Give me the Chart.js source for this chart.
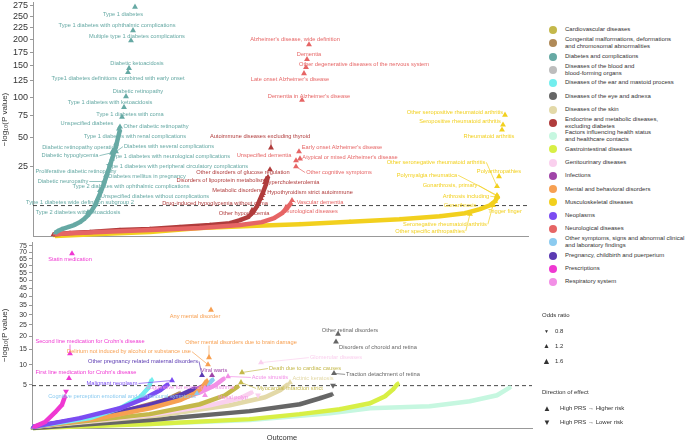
<!DOCTYPE html>
<html>
<head>
<meta charset="utf-8">
<script src="https://cdn.jsdelivr.net/npm/chart.js@4.4.1/dist/chart.umd.min.js"></script>
<style>
  body { margin: 0; background: #fff; font-family: "Liberation Sans", Arial, sans-serif; color: #333; }
  #page { position: relative; width: 685px; height: 442px; overflow: hidden; }
  canvas { position: absolute; left: 0; }
  #topChart { top: 0; }
  #bottomChart { top: 240px; }
  #legend { position: absolute; left: 549px; top: 23.4px; font-size: 6px; }
  .row { height: 13.27px; display: flex; align-items: center; }
  .dot { width: 8px; height: 8px; border-radius: 50%; margin-right: 8px; flex: none; }
  .lbl { line-height: 7.2px; white-space: nowrap; }
  .note { position: absolute; font-size: 6px; white-space: nowrap; }
  #outcome { position: absolute; left: 232px; width: 100px; top: 433px; text-align: center; font-size: 7.5px; }
</style>
</head>
<body>
<div id="page">
  <canvas id="topChart" width="540" height="242"></canvas>
  <canvas id="bottomChart" width="540" height="202"></canvas>
  <div id="legend"></div>
  <div class="note" style="left:542px;top:312px">Odds ratio</div>
  <div class="note" style="left:544px;top:328px;font-size:5px">▼</div>
  <div class="note" style="left:555px;top:328px">0.8</div>
  <div class="note" style="left:543px;top:342px;font-size:7px">▲</div>
  <div class="note" style="left:555px;top:343px">1.2</div>
  <div class="note" style="left:542px;top:356px;font-size:9px">▲</div>
  <div class="note" style="left:555px;top:358px">1.6</div>
  <div class="note" style="left:542px;top:389px">Direction of effect</div>
  <div class="note" style="left:543px;top:404px;font-size:8px">▲</div>
  <div class="note" style="left:560px;top:405px">High PRS → Higher risk</div>
  <div class="note" style="left:543px;top:418px;font-size:8px">▼</div>
  <div class="note" style="left:560px;top:419px">High PRS → Lower risk</div>
  <div id="outcome">Outcome</div>
</div>
<script>
// Категории (легенда)
const categories = [
  "Cardiovascular diseases",
  "Congenital malformations, deformations and chromosomal abnormalities",
  "Diabetes and complications",
  "Diseases of the blood and blood-forming organs",
  "Diseases of the ear and mastoid process",
  "Diseases of the eye and adnexa",
  "Diseases of the skin",
  "Endocrine and metabolic diseases, excluding diabetes",
  "Factors influencing health status and healthcare contacts",
  "Gastrointestinal diseases",
  "Genitourinary diseases",
  "Infections",
  "Mental and behavioral disorders",
  "Musculoskeletal diseases",
  "Neoplasms",
  "Neurological diseases",
  "Other symptoms, signs and abnormal clinical and laboratory findings",
  "Pregnancy, childbirth and puerperium",
  "Prescriptions",
  "Respiratory system"
];

// Деления оси Y (-log10 P)
const topTicks = [25, 50, 75, 100, 125, 150, 175, 200, 225, 250, 275];
const bottomTicks = [5, 10, 15, 20, 25, 30, 35, 40, 45, 50, 55, 60, 65, 70, 75];
const threshold = 4.8;

// Верхняя панель: [ранг, -log10 P] и отмеченные исходы [ранг, -log10 P, название, направление]
const diabetesCurve = [[22, 0.05], [25, 0.13], [29, 0.25], [35, 0.41], [41, 0.62], [47, 1.0], [51, 1.47], [55, 2.25], [59, 3.45], [62, 4.9], [65, 7.37], [68, 10.3], [71, 14.3], [74, 19.6], [77, 25.7], [80, 33.5], [83, 41.3], [85, 50], [87, 58.4]];
const diabetesHits = [
  [102, 272, "Type 1 diabetes"],
  [100, 219, "Type 1 diabetes with ophthalmic complications"],
  [98, 198, "Multiple type 1 diabetes complications"],
  [96, 146, "Diabetic ketoacidosis"],
  [95, 139, "Type1 diabetes definitions combined with early onset"],
  [93, 101, "Diabetic retinopathy"],
  [91, 86, "Type 1 diabetes with ketoacidosis"],
  [89, 73.5, "Type 1 diabetes with coma"],
  [87, 61.7, "Other diabetic retinopathy"],
  [86, 59.5, "Unspecified diabetes"],
  [83, 44, "Type 1 diabetes with renal complications"],
  [83, 36.9, "Diabetes with several complications"],
  [80, 37.7, "Diabetic retinopathy operation"],
  [79, 36, "Diabetic hypoglycemia"],
  [79, 31, "Type 1 diabetes with neurological complications"],
  [77, 27.2, "Type 1 diabetes with peripheral circulatory complications"],
  [75, 22.2, "Proliferative diabetic retinopathy"],
  [73, 19, "Diabetes mellitus in pregnancy"],
  [71, 15.4, "Diabetic neuropathy"],
  [67, 10.8, "Type 2 diabetes with ophthalmic complications"],
  [65, 7.4, "Unspecified diabetes without complications"],
  [63, 5.2, "Type 1 diabetes wide definition subgroup 2"],
  [55, 2.9, "Type 2 diabetes with ketoacidosis"]
];
const endocrineCurve = [[20, 0.01], [37, 0.05], [57, 0.08], [87, 0.18], [117, 0.25], [147, 0.41], [177, 0.62], [197, 0.86], [207, 1.31], [215, 1.84], [220, 2.94], [224, 4.59], [227, 6.98], [230, 9.9], [233, 13.8], [235, 18.4]];
const endocrineHits = [
  [238, 40.4, "Autoimmune diseases excluding thyroid"],
  [237, 22.9, "Other disorders of glucose regulation"],
  [233, 16.6, "Disorders of lipoprotein metabolism"],
  [232, 14.9, "Hypercholesterolemia"],
  [230, 9.4, "Metabolic disorders"],
  [229, 8.6, "Hypothyroidism strict autoimmune"],
  [228, 7.4, "Drug-induced hypoglycemia without coma"],
  [219, 3.45, "Other hypoglycemia"]
];
const neuroCurve = [[22, 0.02], [67, 0.08], [117, 0.18], [167, 0.33], [207, 0.62], [229, 1.0], [241, 1.65], [249, 2.7], [254, 4.0], [258, 5.6]];
const neuroHits = [
  [276, 190, "Alzheimer's disease, wide definition"],
  [274, 161.7, "Dementia"],
  [273, 147.4, "Other degenerative diseases of the nervous system"],
  [271, 137, "Late onset Alzheimer's disease"],
  [269, 95.8, "Dementia in Alzheimer's disease"],
  [266, 36.9, "Early onset Alzheimer's disease"],
  [267, 31, "Atypical or mixed Alzheimer's disease"],
  [263, 29.5, "Unspecified dementia"],
  [263, 25, "Other cognitive symptoms"],
  [259, 6.6, "Vascular dementia"],
  [253, 4.3, "Neurological diseases"]
];
const muscleCurve = [[22, 0.0], [67, 0.02], [117, 0.08], [167, 0.33], [217, 0.51], [267, 0.73], [317, 1.07], [367, 1.47], [407, 2.04], [432, 2.7], [447, 3.72], [457, 4.9], [462, 6.25], [465, 8.16]];
const muscleHits = [
  [472, 75.9, "Other seropositive rheumatoid arthritis"],
  [470, 64, "Seropositive rheumatoid arthritis"],
  [469, 58.4, "Rheumatoid arthritis"],
  [466, 18.4, "Polyarthropathies"],
  [464, 12.8, "Other seronegative rheumatoid arthritis"],
  [464, 8.6, "Polymyalgia rheumatica"],
  [464, 8.2, "Gonarthrosis, primary"],
  [464, 7.8, "Arthrosis including"],
  [462, 6.25, "Gonarthrosis"],
  [459, 5.2, "Trigger finger"],
  [460, 4.9, "Seronegative rheumatoid arthritis"],
  [437, 2.5, "Other specific arthropathies"]
];

// Нижняя панель
const prescriptionCurve = [[2, 0.08], [13, 0.25], [23, 0.9], [30, 1.7], [33, 2.9]];
const prescriptionHits = [
  [40, 68.9, "Statin medication"],
  [38, 13.5, "Second line medication for Crohn's disease"],
  [37, 6.4, "First line medication for Crohn's disease"],
  [34, 3.7, "", -1]
];
const mentalCurve = [[1, 0.08], [68, 0.47], [118, 1.31], [148, 2.3], [163, 3.37], [171, 4.65], [175, 5.9]];
const mentalHits = [
  [179, 32.4, "Any mental disorder"],
  [177, 12.2, "Other mental disorders due to brain damage"],
  [176, 10, "Delirium not induced by alcohol or substance use"]
];
const pregnancyCurve = [[1, 0.08], [68, 0.61], [118, 1.65], [148, 3.04], [163, 4.26]];
const pregnancyHits = [[170, 7.1, "Other pregnancy related maternal disorders"]];
const infectionCurve = [[1, 0.08], [78, 0.68], [128, 2.02], [158, 3.54], [173, 4.85]];
const infectionHits = [[180, 7.1, "Viral warts"]];
const neoplasmCurve = [[1, 0.08], [48, 0.47], [88, 1.31], [113, 2.58], [128, 3.89], [136, 5.05]];
const neoplasmHits = [[140, 5.9, "Malignant neoplasm"]];
const symptomCurve = [[1, 0.08], [68, 0.54], [118, 1.65], [153, 3.04], [168, 4.26], [178, 5.47], [181, 6.14]];
const symptomHits = [[165, 3.37, "Cognitive perception emotional and behavioural symptoms"]];
const earCurve = [[1, 0.08], [58, 0.47], [88, 1.31], [108, 2.73], [116, 4.26], [120, 6.14]];
const bloodCurve = [[1, 0.08], [88, 0.76], [138, 2.29], [163, 3.54]];
const congenitalCurve = [[1, 0.08], [88, 0.93], [133, 2.29], [148, 3.37]];
const respiratoryCurve = [[1, 0.08], [88, 0.84], [138, 2.02], [168, 3.54], [183, 4.85], [192, 6.37]];
const respiratoryHits = [
  [196, 6.84, "Acute sinusitis"],
  [173, 4.26, "Suggestive for eosinophilic asthma"],
  [173, 3.04, "Nasal polyp"]
];
const genitourinaryCurve = [[1, 0.08], [118, 0.68], [178, 1.65], [208, 2.58], [220, 3.54]];
const genitourinaryHits = [[229, 10.6, "Glomerular diseases"], [226, 3.04, "", -1]];
const cardioCurve = [[1, 0.08], [118, 0.76], [168, 1.77], [193, 3.04], [206, 4.65]];
const cardioHits = [[210, 7.83, "Death due to cardiac causes"], [209, 5.47, "Myocardial infarction strict"]];
const skinCurve = [[1, 0.08], [128, 0.68], [198, 1.65], [233, 2.73], [248, 3.89], [256, 5.05]];
const skinHits = [[258, 5.47, "Actinic keratosis"]];
const eyeCurve = [[1, 0.05], [118, 0.36], [218, 1.02], [268, 1.77], [288, 2.58], [300, 3.2]];
const eyeHits = [
  [306, 21, "Other retinal disorders"],
  [304, 17.8, "Disorders of choroid and retina"],
  [302, 7.6, "Traction detachment of retina"],
  [301, 4.85, "", -1]
];
const gastroCurve = [[1, 0.05], [118, 0.17], [218, 0.41], [268, 0.76], [308, 1.21], [338, 1.89], [353, 2.88], [361, 4.07], [366, 5.26]];
const factorsCurve = [[1, 0.08], [118, 0.17], [218, 0.36], [298, 0.84], [338, 1.31], [398, 1.53], [438, 2.15], [465, 3.04], [478, 4.45]];

// Цвета категорий
const palette = {
  "Cardiovascular diseases": "#c4b84a",
  "Congenital malformations, deformations and chromosomal abnormalities": "#b08a58",
  "Diabetes and complications": "#66a9a4",
  "Diseases of the blood and blood-forming organs": "#bdbdbd",
  "Diseases of the ear and mastoid process": "#72eeee",
  "Diseases of the eye and adnexa": "#666666",
  "Diseases of the skin": "#e3d9a8",
  "Endocrine and metabolic diseases, excluding diabetes": "#b03c3c",
  "Factors influencing health status and healthcare contacts": "#c6f7e0",
  "Gastrointestinal diseases": "#d8ef45",
  "Genitourinary diseases": "#fad0ee",
  "Infections": "#a044a8",
  "Mental and behavioral disorders": "#f7a052",
  "Musculoskeletal diseases": "#f2d01e",
  "Neoplasms": "#7b4cf2",
  "Neurological diseases": "#e66565",
  "Other symptoms, signs and abnormal clinical and laboratory findings": "#8ccbf0",
  "Pregnancy, childbirth and puerperium": "#5b3ab2",
  "Prescriptions": "#ef38d2",
  "Respiratory system": "#f28fe6"
};
const legendLines = {
  "Congenital malformations, deformations and chromosomal abnormalities": ["Congenital malformations, deformations", "and chromosomal abnormalities"],
  "Diseases of the blood and blood-forming organs": ["Diseases of the blood and", "blood-forming organs"],
  "Endocrine and metabolic diseases, excluding diabetes": ["Endocrine and metabolic diseases,", "excluding diabetes"],
  "Factors influencing health status and healthcare contacts": ["Factors influencing health status", "and healthcare contacts"],
  "Other symptoms, signs and abnormal clinical and laboratory findings": ["Other symptoms, signs and abnormal clinical", "and laboratory findings"]
};

// Смещения подписей в пикселях: [dx, dy, выноска]
const noteOffsets = {
  "Type 1 diabetes": [-12, 7],
  "Type 1 diabetes with ophthalmic complications": [-16, -5],
  "Multiple type 1 diabetes complications": [6, -4],
  "Diabetic ketoacidosis": [8, -5],
  "Type1 diabetes definitions combined with early onset": [-10, 6],
  "Diabetic retinopathy": [12, -5],
  "Type 1 diabetes with ketoacidosis": [-14, -5],
  "Type 1 diabetes with coma": [8, -3],
  "Other diabetic retinopathy": [36, 0],
  "Unspecified diabetes": [-32, -5],
  "Type 1 diabetes with renal complications": [19, -7],
  "Diabetes with several complications": [53, -5, true],
  "Diabetic retinopathy operation": [-33, -3],
  "Diabetic hypoglycemia": [-42, 3, true],
  "Type 1 diabetes with neurological complications": [58, -2, true],
  "Type 1 diabetes with peripheral circulatory complications": [67, 3, true],
  "Proliferative diabetic retinopathy": [-32, 1],
  "Diabetes mellitus in pregnancy": [41, 1],
  "Diabetic neuropathy": [-41, 0, true],
  "Type 2 diabetes with ophthalmic complications": [31, -4],
  "Unspecified diabetes without complications": [57, -2],
  "Type 1 diabetes wide definition subgroup 2": [-16, -2],
  "Type 2 diabetes with ketoacidosis": [-10, 0],
  "Autoimmune diseases excluding thyroid": [-11, -11, true],
  "Other disorders of glucose regulation": [-27, 3],
  "Disorders of lipoprotein metabolism": [-45, 1],
  "Hypercholesterolemia": [27, 0],
  "Metabolic disorders": [-26, -3],
  "Hypothyroidism strict autoimmune": [48, -3],
  "Drug-induced hypoglycemia without coma": [-46, 5],
  "Other hypoglycemia": [-8, 3],
  "Alzheimer's disease, wide definition": [-14, -5],
  "Dementia": [2, -5],
  "Other degenerative diseases of the nervous system": [58, -3],
  "Late onset Alzheimer's disease": [-14, 6],
  "Dementia in Alzheimer's disease": [7, -4],
  "Early onset Alzheimer's disease": [43, -4],
  "Atypical or mixed Alzheimer's disease": [50, -1],
  "Unspecified dementia": [-32, -5],
  "Other cognitive symptoms": [43, 6, true],
  "Vascular dementia": [28, 2, true],
  "Neurological diseases": [24, 4, true],
  "Other seropositive rheumatoid arthritis": [-50, -3],
  "Seropositive rheumatoid arthritis": [-43, -3],
  "Rheumatoid arthritis": [-13, 7],
  "Polyarthropathies": [0, -5],
  "Other seronegative rheumatoid arthritis": [-61, -24, true],
  "Polymyalgia rheumatica": [-70, -20, true],
  "Gonarthrosis, primary": [-47, -11, true],
  "Arthrosis including": [-31, -1, true],
  "Gonarthrosis": [-35, 4],
  "Trigger finger": [13, 7, true],
  "Seronegative rheumatoid arthritis": [-48, 19, true],
  "Other specific arthropathies": [-40, 17, true],
  "Statin medication": [-2, 6],
  "Second line medication for Crohn's disease": [20, -12, true],
  "First line medication for Crohn's disease": [17, -6],
  "Any mental disorder": [-16, 6],
  "Other mental disorders due to brain damage": [32, -15, true],
  "Delirium not induced by alcohol or substance use": [-79, -13, true],
  "Other pregnancy related maternal disorders": [-59, -14, true],
  "Viral warts": [2, -5],
  "Malignant neoplasm": [-60, 3, true],
  "Cognitive perception emotional and behavioural symptoms": [-75, 3],
  "Acute sinusitis": [42, 1, true],
  "Suggestive for eosinophilic asthma": [-15, -1],
  "Nasal polyp": [28, 2],
  "Glomerular diseases": [75, -5, true],
  "Death due to cardiac causes": [63, -4, true],
  "Myocardial infarction strict": [49, 6, true],
  "Actinic keratosis": [23, -4],
  "Other retinal disorders": [12, -4],
  "Disorders of choroid and retina": [42, 6],
  "Traction detachment of retina": [49, 1, true]
};

// Состав панелей (первая строка рисуется поверх)
const topPanel = [
  ["Diabetes and complications", diabetesCurve, diabetesHits],
  ["Neurological diseases", neuroCurve, neuroHits],
  ["Endocrine and metabolic diseases, excluding diabetes", endocrineCurve, endocrineHits],
  ["Musculoskeletal diseases", muscleCurve, muscleHits]
];
const bottomPanel = [
  ["Prescriptions", prescriptionCurve, prescriptionHits],
  ["Neoplasms", neoplasmCurve, neoplasmHits],
  ["Diseases of the ear and mastoid process", earCurve, []],
  ["Mental and behavioral disorders", mentalCurve, mentalHits],
  ["Pregnancy, childbirth and puerperium", pregnancyCurve, pregnancyHits],
  ["Infections", infectionCurve, infectionHits],
  ["Other symptoms, signs and abnormal clinical and laboratory findings", symptomCurve, symptomHits],
  ["Respiratory system", respiratoryCurve, respiratoryHits],
  ["Diseases of the blood and blood-forming organs", bloodCurve, []],
  ["Congenital malformations, deformations and chromosomal abnormalities", congenitalCurve, []],
  ["Cardiovascular diseases", cardioCurve, cardioHits],
  ["Genitourinary diseases", genitourinaryCurve, genitourinaryHits],
  ["Diseases of the skin", skinCurve, skinHits],
  ["Diseases of the eye and adnexa", eyeCurve, eyeHits],
  ["Gastrointestinal diseases", gastroCurve, []],
  ["Factors influencing health status and healthcare contacts", factorsCurve, []]
];

// Легенда
const legendEl = document.getElementById("legend");
categories.forEach(cat => {
  const row = document.createElement("div");
  row.className = "row";
  const dot = document.createElement("span");
  dot.className = "dot";
  dot.style.background = palette[cat];
  const lbl = document.createElement("span");
  lbl.className = "lbl";
  (legendLines[cat] || [cat]).forEach((line, i) => {
    if (i) lbl.appendChild(document.createElement("br"));
    lbl.appendChild(document.createTextNode(line));
  });
  row.appendChild(dot);
  row.appendChild(lbl);
  legendEl.appendChild(row);
});

// Пунктирная линия порога значимости
const sigPlugin = {
  id: "sig",
  beforeDatasetsDraw(chart) {
    const { ctx, chartArea: a, scales } = chart;
    const py = scales.y.getPixelForValue(Math.sqrt(threshold));
    ctx.save();
    ctx.setLineDash([4, 3]);
    ctx.strokeStyle = "#333";
    ctx.lineWidth = 0.9;
    ctx.beginPath();
    ctx.moveTo(a.left, py);
    ctx.lineTo(a.right, py);
    ctx.stroke();
    ctx.restore();
  }
};

// Подписи исходов
const notePlugin = {
  id: "notes",
  afterDatasetsDraw(chart) {
    const ctx = chart.ctx;
    ctx.save();
    ctx.font = '5.7px "Liberation Sans", Arial, sans-serif';
    ctx.textAlign = "center";
    ctx.textBaseline = "middle";
    chart.data.datasets.forEach((ds, di) => {
      if (!ds.isHits) return;
      const meta = chart.getDatasetMeta(di);
      ds.data.forEach((d, i) => {
        const off = noteOffsets[d.name];
        if (!d.name || !off) return;
        const el = meta.data[i];
        const lx = el.x + off[0], ly = el.y + off[1];
        ctx.fillStyle = ds.textColor;
        ctx.strokeStyle = ds.textColor;
        if (off[2]) {
          const w = ctx.measureText(d.name).width;
          let tx = el.x, ty = ly + (el.y > ly ? 3 : -3);
          if (el.x < lx - w / 2) { tx = lx - w / 2 - 1; ty = ly; }
          else if (el.x > lx + w / 2) { tx = lx + w / 2 + 1; ty = ly; }
          ctx.lineWidth = 0.7;
          ctx.beginPath();
          ctx.moveTo(el.x, el.y);
          ctx.lineTo(tx, ty);
          ctx.stroke();
        }
        ctx.fillText(d.name, lx, ly);
      });
    });
    ctx.restore();
  }
};

function curveSet(cat, pts) {
  return {
    data: pts.map(p => ({ x: p[0], y: Math.sqrt(p[1]) })),
    showLine: true,
    borderColor: palette[cat],
    backgroundColor: palette[cat],
    borderWidth: 4.5,
    pointStyle: "triangle",
    pointRadius: 2.7,
    pointBorderWidth: 0,
    clip: false
  };
}

function hitSet(cat, pts) {
  return {
    isHits: true,
    textColor: palette[cat],
    data: pts.map(p => ({ x: p[0], y: Math.sqrt(p[1]), name: p[2], dir: p[3] || 1 })),
    showLine: false,
    backgroundColor: palette[cat],
    borderColor: palette[cat],
    pointStyle: "triangle",
    pointRadius: 3.4,
    pointBorderWidth: 0,
    rotation: c => (c.raw && c.raw.dir < 0 ? 180 : 0),
    clip: false
  };
}

function buildSets(panel) {
  return panel.map(r => hitSet(r[0], r[2])).concat(panel.map(r => curveSet(r[0], r[1])));
}

function makeChart(id, panel, ticks, yMin, yMax, xMax, pad, axisWidth, xHeight, tickSize) {
  return new Chart(document.getElementById(id), {
    type: "scatter",
    data: { datasets: buildSets(panel) },
    options: {
      responsive: false,
      animation: false,
      events: [],
      layout: { padding: pad, autoPadding: false },
      plugins: { legend: { display: false }, tooltip: { enabled: false } },
      scales: {
        x: {
          min: 0, max: xMax,
          ticks: { display: false },
          grid: { display: false },
          border: { color: "#999" },
          afterFit: s => { s.height = xHeight; }
        },
        y: {
          min: yMin, max: yMax,
          afterBuildTicks: s => { s.ticks = ticks.map(v => ({ value: Math.sqrt(v) })); },
          ticks: {
            autoSkip: false,
            padding: 2,
            color: "#333",
            font: { size: tickSize, lineHeight: 0.2, family: '"Liberation Sans", Arial, sans-serif' },
            callback: v => Math.round(v * v)
          },
          grid: { display: true, drawOnChartArea: false, tickLength: 3, color: "#999" },
          border: { color: "#999" },
          title: {
            display: true,
            text: "−log₁₀(P value)",
            color: "#333",
            padding: 0,
            font: { size: 8, family: '"Liberation Sans", Arial, sans-serif' }
          },
          afterFit: s => { s.width = axisWidth; }
        }
      }
    },
    plugins: [sigPlugin, notePlugin]
  });
}

makeChart("topChart", topPanel, topTicks, 0, 235 / 14, 495, { top: 1, right: 12, bottom: 0, left: 0 }, 33, 6, 9);
makeChart("bottomChart", bottomPanel, bottomTicks, 5 / 21.8, 192 / 21.8, 500, { top: 1, right: 8, bottom: 0, left: 0 }, 32, 14, 7);
</script>
</body>
</html>
